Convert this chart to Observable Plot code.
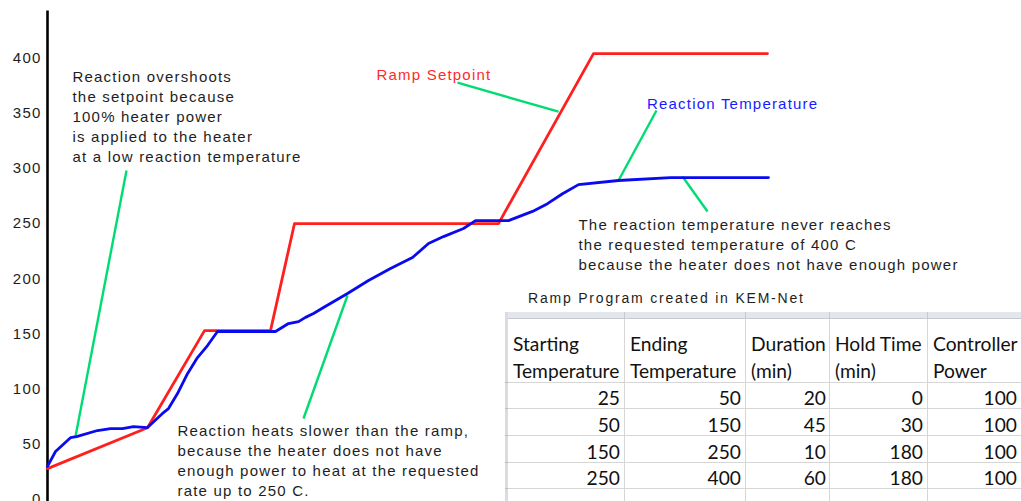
<!DOCTYPE html>
<html><head><meta charset="utf-8">
<script src="https://cdn.jsdelivr.net/npm/d3@7"></script>
<script src="https://cdn.jsdelivr.net/npm/@observablehq/plot@0.6"></script>
<style>
html,body{margin:0;padding:0;background:#fff;}
#wrap{position:relative;width:1021px;height:501px;overflow:hidden;background:#fff;}
#chart svg text{letter-spacing:1.2px;}
#title{position:absolute;left:528px;top:289px;font-family:"Liberation Sans",Arial,sans-serif;font-size:14px;letter-spacing:1.8px;color:#1e1e1e;white-space:nowrap;line-height:18px;}
.grid{position:absolute;box-sizing:border-box;}
.txt{position:absolute;font-family:Lato,"Open Sans",sans-serif;font-size:19.2px;color:#111;white-space:nowrap;height:26px;line-height:26px;}
</style></head>
<body><div id="wrap"><div id="chart"></div><div id="title"></div><div id="table"></div></div>
<script>
// ---- data ----
const yTicks = [0, 50, 100, 150, 200, 250, 300, 350, 400];

// Ramp setpoint (time in arbitrary minutes, temperature)
const setpointTime = [0, 20, 31.4, 44.6, 49.4, 90.2, 109.2, 144];
const setpointTemp = [28, 65, 153, 153, 250, 250, 404, 404];

// Reaction temperature
const reactionTime = [0, 1.6, 4.6, 5.8, 10, 12.6, 15, 17.2, 20, 23, 24.2, 26, 28, 30, 32, 34, 45.6, 48.2, 50.2, 51.6, 53.2, 55.2, 60, 64.2, 68.6, 73, 76.2, 79.2, 83.2, 85.6, 92.2, 97, 100, 103, 106.2, 114.2, 124.6, 144.2];
const reactionTemp = [30, 43.5, 56, 57, 62.5, 64.3, 64.3, 66, 65.2, 78, 82.4, 96, 114, 128.6, 139.5, 152.2, 152.2, 159.4, 161.2, 165, 168.5, 174, 186.6, 198.4, 209.2, 219.2, 232, 238.2, 245.5, 252.7, 252.7, 261, 268, 277, 285.3, 289, 291.7, 291.7];

// Annotations
const noteText = [
  "Reaction overshoots\nthe setpoint because\n100% heater power\nis applied to the heater\nat a low reaction temperature",
  "Ramp Setpoint",
  "Reaction Temperature",
  "The reaction temperature never reaches\nthe requested temperature of 400 C\nbecause the heater does not have enough power",
  "Reaction heats slower than the ramp,\nbecause the heater does not have\nenough power to heat at the requested\nrate up to 250 C."
];
const noteTime = [5, 65.8, 119.9, 106.2, 26];
const noteTemp = [391.3, 393.1, 366.8, 257.2, 70];
const noteKind = ["note", "setpoint", "reaction", "note", "note"];

// Leader lines (from label to curve)
const leaderTime1 = [15.8, 82, 121.8, 127, 51.2];
const leaderTemp1 = [298, 377.7, 352.4, 292.6, 73.4];
const leaderTime2 = [5.6, 102.2, 114.2, 132, 60];
const leaderTemp2 = [57, 351.4, 289, 260.9, 184.8];

// Table
const tableTitle = "Ramp Program created in KEM-Net";
const tableHeaders = ["Starting\nTemperature", "Ending\nTemperature", "Duration\n(min)", "Hold Time\n(min)", "Controller\nPower"];
const startTemps = [25, 50, 150, 250];
const endTemps = [50, 150, 250, 400];
const durations = [20, 45, 10, 60];
const holdTimes = [0, 30, 180, 180];
const controllerPower = [100, 100, 100, 100];

// ---- styles ----
const colors = {note: "#1e1e1e", setpoint: "#ff2a2a", reaction: "#1a1aff"};

const setpoint = setpointTime.map((t, i) => ({t, v: setpointTemp[i]}));
const reaction = reactionTime.map((t, i) => ({t, v: reactionTemp[i]}));
const notes = noteText.map((text, i) => ({text, t: noteTime[i], v: noteTemp[i], kind: noteKind[i]}));
const leaders = leaderTime1.map((t1, i) => ({t1, v1: leaderTemp1[i], t2: leaderTime2[i], v2: leaderTemp2[i]}));

const chart = Plot.plot({
  width: 1021, height: 501,
  marginLeft: 47, marginRight: 0, marginTop: 0, marginBottom: 0,
  x: {domain: [0, 150], range: [47, 797], axis: null},
  y: {domain: [0, 400], range: [499, 57.5], axis: null},
  style: {fontFamily: '"Liberation Sans", Arial, sans-serif', fontSize: "15px", background: "#fff", color: "#1e1e1e"},
  marks: [
    Plot.axisY(yTicks, {anchor: "left", tickSize: 0, tickPadding: 6, fontSize: 15, fill: "#1e1e1e", tickFormat: d => String(d)}),
    Plot.ruleX([0], {y1: -10, y2: 442.5, stroke: "#000", strokeWidth: 2.6}),
    Plot.link(leaders, {x1: "t1", y1: "v1", x2: "t2", y2: "v2", stroke: "#00dc72", strokeWidth: 2.4}),
    Plot.line(setpoint, {x: "t", y: "v", stroke: "#ff1f1f", strokeWidth: 2.8, strokeLinejoin: "round"}),
    Plot.line(reaction, {x: "t", y: "v", stroke: "#0a0aee", strokeWidth: 2.8, strokeLinejoin: "round"}),
    Plot.text(notes, {x: "t", y: "v", text: "text", fill: d => colors[d.kind], textAnchor: "start", lineAnchor: "top", lineHeight: 1.3333, fontSize: 15})
  ]
});
document.getElementById("chart").appendChild(chart);

// ---- table (HTML inset) ----
document.getElementById("title").textContent = tableTitle;
const tbl = document.getElementById("table");
const colX = [508, 625, 746, 830, 928, 1022];
const rowY = [319, 383, 409, 436, 463, 489, 520];
function box(l, t, w, h, css) {
  const d = document.createElement("div");
  d.className = "grid";
  Object.assign(d.style, {left: l + "px", top: t + "px", width: w + "px", height: h + "px"}, css);
  tbl.appendChild(d);
}
// column header strip
box(505, 312, 520, 7, {background: "#e3e6ea", borderBottom: "1px solid #c6cad0"});
// row header strip
box(505, 312, 3, 200, {background: "#d9dce0"});
colX.slice(0, -1).forEach((x, i) => { if (i > 0) box(x - 1, 312, 1, 7, {background: "#c6cad0"}); });
// grid lines
colX.forEach((x, i) => { if (i > 0) box(x - 1, 319, 1, 200, {background: "#d6d6d6"}); });
rowY.forEach((y, i) => { if (i > 0) box(505, y - 1, 520, 1, {background: "#d6d6d6"}); });
rowY.forEach((y, i) => { if (i > 0) box(505, y - 1, 3, 1, {background: "#b9bcc0"}); });

function txt(s, centerY, left, right) {
  const d = document.createElement("div");
  d.className = "txt";
  d.textContent = s;
  d.style.top = (centerY - 13) + "px";
  if (left != null) d.style.left = left + "px";
  else d.style.right = (1021 - right) + "px";
  tbl.appendChild(d);
}
tableHeaders.forEach((h, c) => {
  const lines = h.split("\n");
  lines.forEach((ln, k) => txt(ln, 371 - (lines.length - 1 - k) * 27, colX[c] + 5, null));
});
const cols = [startTemps, endTemps, durations, holdTimes, controllerPower];
const rightPad = [5, 5, 4, 5, 5];
for (let r = 0; r < 4; r++) {
  cols.forEach((arr, c) => txt(String(arr[r]), rowY[r + 2] - 11, null, colX[c + 1] - rightPad[c]));
}
</script>
</body></html>
